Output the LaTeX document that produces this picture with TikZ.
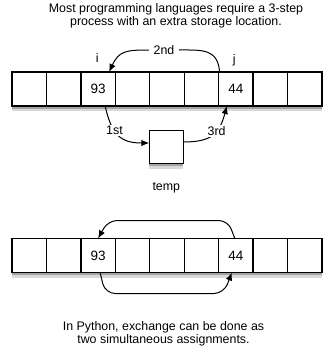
\documentclass[tikz,border=0pt]{standalone}
\usepackage{fontspec}
\setmainfont{Liberation Sans}
\usetikzlibrary{positioning,calc,shadows,arrows.meta}
\tikzset{
    cell/.style={
        rectangle,
        draw=black,
        line width=1.4pt,
        fill=white,
        minimum width=34.44pt,
        minimum height=34pt,
        outer sep=0pt,
        softshadow
    },
    softshadow/.style={
        drop shadow={shadow xshift=0pt, shadow yshift=-5pt, opacity=0.15, fill=black},
        drop shadow={shadow xshift=0pt, shadow yshift=-2.5pt, opacity=0.25, fill=black}
    },
    swap/.style={
        -{Latex[length=8pt,width=6.5pt]},
        line width=1pt
    },
    txt/.style={font=\fontsize{12.4}{12.6}\selectfont},
    numtxt/.style={font=\fontsize{13.5}{14}\selectfont}
}

\begin{document}
\begin{tikzpicture}[x=1pt, y=1pt, node distance=0pt]
\useasboundingbox (0,0) rectangle (332,-348);

% Caption
\node[txt, align=center, anchor=north, inner sep=0pt] (title) at (176,-3.8) {Most programming languages require a 3-step\\process with an extra storage location.};

% Top array
\node[cell] (top0) at (29.22,-89) {};
\foreach \k [remember=\k as \p (initially 0)] in {1,...,8}
    \node[cell, right=of top\p] (top\k) {};
\node[numtxt] (top93) at (top2) {93};
\node[numtxt] (top44) at (top6) {44};
\node[txt] (i) at (97.3,-58.3) {i};
\node[txt] (j) at (234.3,-60) {j};

% Temp
\node[cell, minimum width=34pt, minimum height=33pt] (temp) at (166.3,-147) {};
\node[txt, below=15.5pt of temp] (temp-label) {temp};

% Three steps
\node[txt, inner sep=4.5pt] (second) at (164,-50) {2nd};
\draw[swap] ([xshift=1pt]top6.north west) to[out=95, in=0, looseness=1.3] (second)
    to[out=180, in=65, looseness=1.3] ([xshift=11pt]top2.north);
\draw[swap] ([xshift=7pt]top2.south) to[out=-77, in=180, looseness=1.3]
    node[txt, pos=0.38, fill=white, inner sep=1.5pt] (first) {1st} ([yshift=4pt]temp.west);
\draw[swap] ([yshift=5pt]temp.east) to[out=0, in=-105, looseness=1.3]
    node[txt, pos=0.6, fill=white, inner sep=1.5pt] (third) {3rd} ([xshift=-9pt]top6.south);

% Bottom array
\node[cell] (bot0) at (29.22,-255.5) {};
\foreach \k [remember=\k as \p (initially 0)] in {1,...,8}
    \node[cell, right=of bot\p] (bot\k) {};
\node[numtxt] (bot93) at (bot2) {93};
\node[numtxt] (bot44) at (bot6) {44};

% Simultaneous exchange
\draw[swap, rounded corners=9pt] ([xshift=-1pt]bot6.north) -- ([xshift=-8pt,yshift=18pt]bot6.north)
    -- ([xshift=10pt,yshift=18pt]bot2.north) -- (bot2.north);
\draw[swap, rounded corners=10pt] ([xshift=2pt]bot2.south) -- ([xshift=7pt,yshift=-21pt]bot2.south)
    -- ([xshift=-12pt,yshift=-21pt]bot6.south) -- ([xshift=-4pt]bot6.south);

% Caption
\node[txt, align=center, anchor=north, inner sep=0pt] (note) at (163.5,-321.7) {In Python, exchange can be done as\\two simultaneous assignments.};
\end{tikzpicture}
\end{document}
